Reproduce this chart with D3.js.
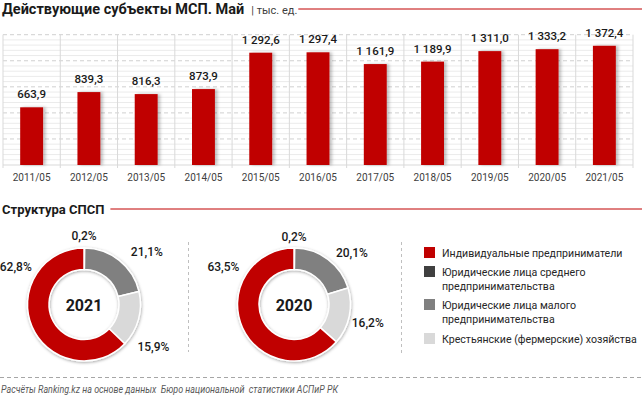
<!DOCTYPE html>
<html>
<head>
<meta charset="utf-8">
<script src="https://cdn.jsdelivr.net/npm/d3@7"></script>
<style>
  body { margin: 0; background: #fff; }
  svg { display: block; font-family: Roboto, "Noto Sans", sans-serif; }
</style>
</head>
<body>
<svg id="chart" width="642" height="401"></svg>
<script>
// данные
const periods = ["2011/05", "2012/05", "2013/05", "2014/05", "2015/05", "2016/05",
  "2017/05", "2018/05", "2019/05", "2020/05", "2021/05"];
const subjects = [663.9, 839.3, 816.3, 873.9, 1292.6, 1297.4, 1161.9, 1189.9, 1311.0, 1333.2, 1372.4];

const groups = ["Индивидуальные предприниматели",
  "Юридические лица среднего предпринимательства",
  "Юридические лица малого предпринимательства",
  "Крестьянские (фермерские) хозяйства"];
const share2021 = [62.8, 0.2, 21.1, 15.9];
const share2020 = [63.5, 0.2, 20.1, 16.2];
const years = ["2021", "2020"];

const colors = ["#c00000", "#404040", "#808080", "#d9d9d9"];
// порядок секторов по часовой стрелке от 12 часов (как в Excel)
const pieOrder = [1, 2, 3, 0];

const svg = d3.select("#chart");
const fmt = d3.formatLocale({ decimal: ",", thousands: "\u00a0", grouping: [3] }).format(",.1f");
const pct = d3.formatLocale({ decimal: ",", thousands: " ", grouping: [3] }).format(".1f");

// тени
const defs = svg.append("defs");
const barShadow = defs.append("filter").attr("id", "barShadow")
  .attr("x", "-20%").attr("y", "-10%").attr("width", "160%").attr("height", "120%");
barShadow.append("feDropShadow").attr("dx", 2.5).attr("dy", 0).attr("stdDeviation", 1.5)
  .attr("flood-color", "#000").attr("flood-opacity", 0.25);
const ringShadow = defs.append("filter").attr("id", "ringShadow")
  .attr("x", "-20%").attr("y", "-20%").attr("width", "140%").attr("height", "140%");
ringShadow.append("feDropShadow").attr("dx", 0.5).attr("dy", 1).attr("stdDeviation", 1.5)
  .attr("flood-color", "#000").attr("flood-opacity", 0.35);

// ---------- заголовок ----------
const title = svg.append("text")
  .attr("x", 2).attr("y", 14)
  .attr("font-size", 14.5).attr("font-weight", "bold").attr("fill", "#1a1a1a")
  .text("Действующие субъекты МСП. Май");
const tw = title.node().getComputedTextLength();
const unit = svg.append("text")
  .attr("x", 2 + tw + 7).attr("y", 14)
  .attr("font-size", 11).attr("fill", "#404040")
  .text("| тыс. ед.");
const uw = unit.node().getComputedTextLength();
svg.append("line")
  .attr("x1", 2 + tw + 7 + uw + 1).attr("x2", 642).attr("y1", 9).attr("y2", 9)
  .attr("stroke", "#c00000").attr("stroke-width", 1);

// ---------- столбцы ----------
const x = d3.scaleBand()
  .domain(periods)
  .range([3, 633])
  .paddingInner(0.6)
  .paddingOuter(0.3);
const y = d3.scaleLinear().domain([0, 1500]).range([165, 34.7]);
const step = x.step();

const grid = svg.append("g");
grid.selectAll("line.minor")
  .data(d3.range(60, 1500, 60).filter(v => v % 300 !== 0))
  .join("line")
  .attr("x1", 3).attr("x2", 633)
  .attr("y1", d => y(d)).attr("y2", d => y(d))
  .attr("stroke", "#ebebeb").attr("stroke-width", 1);
grid.selectAll("line.major")
  .data(d3.range(300, 1501, 300))
  .join("line")
  .attr("x1", 3).attr("x2", 633)
  .attr("y1", d => y(d)).attr("y2", d => y(d))
  .attr("stroke", "#d0d0d0").attr("stroke-width", 1)
  .attr("stroke-dasharray", "4,3");
grid.selectAll("line.vert")
  .data(d3.range(periods.length + 1))
  .join("line")
  .attr("x1", i => 3 + i * step).attr("x2", i => 3 + i * step)
  .attr("y1", y(1500)).attr("y2", y(0) + 3)
  .attr("stroke", "#d9d9d9").attr("stroke-width", 1);
grid.append("line")
  .attr("x1", 3).attr("x2", 633).attr("y1", y(0)).attr("y2", y(0))
  .attr("stroke", "#d9d9d9");

svg.append("g")
  .selectAll("rect")
  .data(subjects)
  .join("rect")
  .attr("x", (d, i) => x(periods[i]))
  .attr("y", d => y(d))
  .attr("width", x.bandwidth())
  .attr("height", d => y(0) - y(d))
  .attr("fill", "#c00000")
  .attr("filter", "url(#barShadow)");

svg.append("g")
  .selectAll("text")
  .data(subjects)
  .join("text")
  .attr("x", (d, i) => x(periods[i]) + x.bandwidth() / 2)
  .attr("y", d => y(d) - 9)
  .attr("text-anchor", "middle")
  .attr("font-size", 11.5)
  .attr("font-weight", 500)
  .attr("fill", "#1a1a1a")
  .text(d => fmt(d));

const xAxis = svg.append("g")
  .attr("transform", `translate(0,${y(0)})`)
  .call(d3.axisBottom(x).tickSize(0).tickPadding(9));
xAxis.select(".domain").remove();
xAxis.selectAll("text")
  .attr("font-size", 10).attr("fill", "#404040")
  .attr("font-family", "Roboto, 'Noto Sans', sans-serif");

// ---------- структура ----------
const sub = svg.append("text")
  .attr("x", 2).attr("y", 214)
  .attr("font-size", 13).attr("font-weight", "bold").attr("fill", "#1a1a1a")
  .text("Структура СПСП");
const sw = sub.node().getComputedTextLength();
svg.append("line")
  .attr("x1", 2 + sw + 6).attr("x2", 642).attr("y1", 209).attr("y2", 209)
  .attr("stroke", "#c00000").attr("stroke-width", 1);

const outerR = 56.5, innerR = 35;
const arc = d3.arc().innerRadius(innerR).outerRadius(outerR);

const donuts = [
  { year: years[0], values: share2021, cx: 84, cy: 304.5,
    // положение подписей: [угол, радиус] для каждой группы
    labels: [[299, 78], [0, 69], [50, 82], [121, 81]] },
  { year: years[1], values: share2020, cx: 294, cy: 304.5,
    labels: [[298, 80], [0, 68.5], [48, 78], [104, 76]] }
];

donuts.forEach(dn => {
  const g = svg.append("g").attr("transform", `translate(${dn.cx},${dn.cy})`);
  const arcs = d3.pie().sort(null).value(i => dn.values[i])(pieOrder);
  g.append("g").attr("filter", "url(#ringShadow)")
    .selectAll("path")
    .data(arcs)
    .join("path")
    .attr("d", arc)
    .attr("fill", d => colors[d.data])
    .attr("stroke", "#fff")
    .attr("stroke-width", 1.5);

  g.append("text")
    .attr("y", 6).attr("text-anchor", "middle")
    .attr("font-size", 16).attr("font-weight", "bold").attr("fill", "#1a1a1a")
    .text(dn.year);

  g.selectAll("text.lbl")
    .data(dn.values)
    .join("text")
    .attr("class", "lbl")
    .attr("x", (d, i) => dn.labels[i][1] * Math.sin(dn.labels[i][0] * Math.PI / 180))
    .attr("y", (d, i) => -dn.labels[i][1] * Math.cos(dn.labels[i][0] * Math.PI / 180) + 4.5)
    .attr("text-anchor", "middle")
    .attr("font-size", 12).attr("font-weight", 500).attr("fill", "#1a1a1a")
    .text(d => pct(d) + "%");
});

// разделители
svg.append("line")
  .attr("x1", 188.5).attr("x2", 188.5).attr("y1", 242).attr("y2", 352)
  .attr("stroke", "#bfbfbf").attr("stroke-dasharray", "3,3");
svg.append("line")
  .attr("x1", 401.5).attr("x2", 401.5).attr("y1", 242).attr("y2", 355)
  .attr("stroke", "#bfbfbf").attr("stroke-dasharray", "3,3");

// ---------- легенда ----------
const legendLines = [
  ["Индивидуальные предприниматели"],
  ["Юридические лица среднего", "предпринимательства"],
  ["Юридические лица малого", "предпринимательства"],
  ["Крестьянские (фермерские) хозяйства"]
];
const legendY = [247, 266, 299, 333];
const legend = svg.append("g");
groups.forEach((name, i) => {
  legend.append("rect")
    .attr("x", 424).attr("y", legendY[i])
    .attr("width", 11).attr("height", 11)
    .attr("fill", colors[i]);
  const t = legend.append("text")
    .attr("x", 442).attr("y", legendY[i] + 9.5)
    .attr("font-size", 10.6).attr("fill", "#262626");
  legendLines[i].forEach((ln, j) => {
    const ts = t.append("tspan").attr("x", 442).attr("dy", j === 0 ? 0 : 14.5).text(ln);
    if (ts.node().getComputedTextLength() > 196) {
      ts.attr("textLength", 196).attr("lengthAdjust", "spacingAndGlyphs");
    }
  });
});

// ---------- источник ----------
svg.append("line")
  .attr("x1", 0).attr("x2", 642).attr("y1", 377.5).attr("y2", 377.5)
  .attr("stroke", "#a6a6a6").attr("stroke-dasharray", "4,3");
const src = svg.append("text")
  .attr("x", 1).attr("y", 393)
  .attr("font-size", 10).attr("font-style", "italic").attr("fill", "#595959")
  .attr("xml:space", "preserve")
  .text("Расчёты Ranking.kz на основе данных  Бюро национальной  статистики АСПиР РК");
src.attr("textLength", 337).attr("lengthAdjust", "spacingAndGlyphs");
</script>
</body>
</html>
